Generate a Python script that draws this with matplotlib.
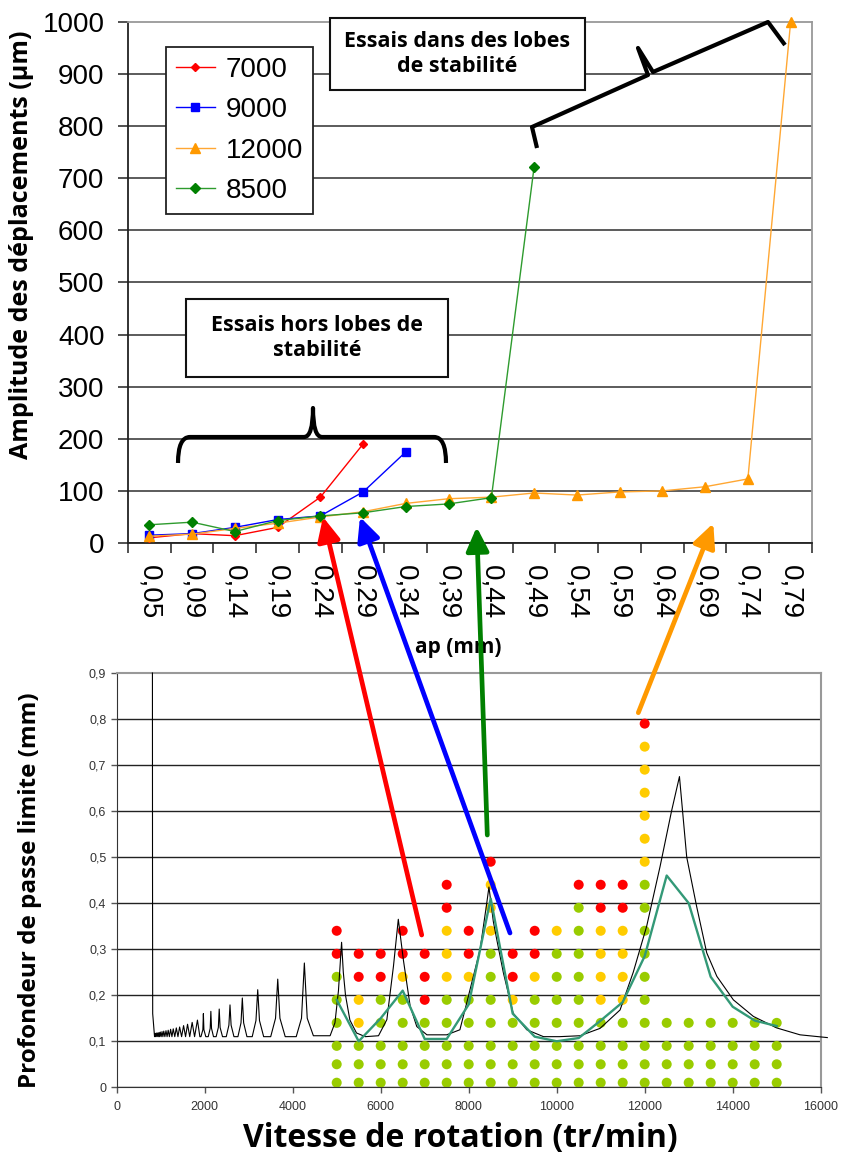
import matplotlib
matplotlib.use("Agg")
import matplotlib.pyplot as plt
from matplotlib.patches import Rectangle, FancyArrowPatch, PathPatch
from matplotlib.path import Path

W, H = 841, 1153
plt.rcParams["font.family"] = ["Liberation Sans", "DejaVu Sans"]
BOLD = ["Open Sans", "DejaVu Sans"]

# ---- top chart: displacement amplitude vs depth of cut ----
ap_labels = ["0,05", "0,09", "0,14", "0,19", "0,24", "0,29", "0,34", "0,39",
             "0,44", "0,49", "0,54", "0,59", "0,64", "0,69", "0,74", "0,79"]
amp_7000 = [10, 18, 14, 30, 88, 190]
amp_9000 = [15, 18, 30, 45, 52, 98, 175]
amp_12000 = [13, 17, 28, 38, 50, 60, 76, 85, 88, 96, 92, 98, 100, 108, 123, 1000]
amp_8500 = [35, 40, 22, 43, 52, 58, 70, 75, 87, 722]

# ---- bottom chart: stability lobes and test grid ----
rpm_cols = [5000, 5500, 6000, 6500, 7000, 7500, 8000, 8500, 9000, 9500, 10000,
            10500, 11000, 11500, 12000, 12500, 13000, 13500, 14000, 14500, 15000]
ap_levels = [0.01, 0.05, 0.09, 0.14, 0.19, 0.24, 0.29, 0.34, 0.39, 0.44, 0.49,
             0.54, 0.59, 0.64, 0.69, 0.74, 0.79]
n_stable = [6, 3, 5, 5, 4, 5, 5, 7, 4, 5, 7, 9, 4, 4, 10, 4, 4, 4, 4, 4, 4]
n_marginal = [0, 2, 0, 1, 0, 3, 1, 3, 1, 1, 1, 0, 4, 4, 6, 0, 0, 0, 0, 0, 0]
n_unstable = [2, 2, 2, 2, 3, 2, 2, 1, 2, 2, 0, 1, 2, 2, 1, 0, 0, 0, 0, 0, 0]
limit_ap = [0.19, 0.10, 0.15, 0.21, 0.105, 0.105, 0.18, 0.41, 0.16, 0.11, 0.10,
            0.107, 0.145, 0.185, 0.285, 0.46, 0.40, 0.24, 0.175, 0.145, 0.133]

lobe_rpm = [812, 814, 818, 860,
            870, 885, 900, 915, 930, 945, 960, 975, 990, 1010, 1030, 1050,
            1070, 1095, 1120, 1145, 1170, 1197, 1225, 1255, 1285, 1320, 1355,
            1392, 1430, 1475, 1520, 1565, 1610, 1660, 1715, 1770, 1835, 1890,
            1915, 1958, 1970, 1982, 2025, 2080, 2125, 2140, 2155, 2200,
            2260, 2310, 2330, 2350, 2405, 2490, 2550, 2575, 2600, 2665,
            2755, 2825, 2855, 2885, 2960, 3080, 3165, 3205, 3245, 3340,
            3500, 3610, 3660, 3710, 3830, 4080, 4200, 4265, 4330, 4470,
            4850, 4960, 5040, 5111, 5150, 5200, 5300, 5450, 5650, 5950,
            6140, 6290, 6400, 6515, 6670, 6820, 7050, 7500, 7800, 7920,
            8260, 8410, 8460, 8560, 8640, 8790, 9010, 9320, 9700, 10060,
            10530, 10985, 11440, 11740, 12045, 12350, 12610, 12790, 12955,
            13180, 13410, 13640, 14015, 14470, 15000, 15530, 16150]
lobe_ap = [0.9, 0.48, 0.16, 0.11,
           0.117, 0.11, 0.118, 0.11, 0.118, 0.11, 0.119, 0.11, 0.12, 0.11, 0.121, 0.11,
           0.122, 0.11, 0.123, 0.11, 0.124, 0.11, 0.126, 0.11, 0.127, 0.11, 0.129,
           0.11, 0.131, 0.11, 0.134, 0.11, 0.137, 0.11, 0.141, 0.11, 0.146, 0.11,
           0.11, 0.125, 0.16, 0.125, 0.11, 0.11, 0.128, 0.165, 0.128, 0.11,
           0.11, 0.13, 0.17, 0.13, 0.11, 0.11, 0.135, 0.179, 0.135, 0.11,
           0.11, 0.14, 0.194, 0.14, 0.11, 0.11, 0.145, 0.212, 0.145, 0.11,
           0.11, 0.15, 0.235, 0.15, 0.11, 0.11, 0.15, 0.27, 0.15, 0.112,
           0.112, 0.14, 0.21, 0.315, 0.25, 0.2, 0.146, 0.118, 0.11, 0.112,
           0.147, 0.263, 0.365, 0.277, 0.176, 0.132, 0.114, 0.114, 0.125, 0.17,
           0.30, 0.40, 0.435, 0.36, 0.32, 0.248, 0.161, 0.125, 0.11, 0.11,
           0.112, 0.128, 0.168, 0.25, 0.35, 0.48, 0.60, 0.675, 0.50,
           0.393, 0.292, 0.241, 0.19, 0.154, 0.129, 0.114, 0.108]

GREEN, YELLOW, RED = "#99CC00", "#FFCC00", "#FF0000"


def box(l, t, r, b):
    return [l / W, 1 - b / H, (r - l) / W, (b - t) / H]


fig = plt.figure(figsize=(W / 100, H / 100), dpi=100)

# top chart
ax1 = fig.add_axes(box(128, 22, 812, 543))
series = [(amp_7000, "#FF0000", "#FF0000", "D", 4.5, "7000"),
          (amp_9000, "#0000FF", "#0000FF", "s", 5.5, "9000"),
          (amp_12000, "#FFA733", "#FF9900", "^", 7, "12000"),
          (amp_8500, "#2E9B2E", "#008000", "D", 5, "8500")]
for vals, lc, mc, marker, ms, label in series:
    ax1.plot(range(len(vals)), vals, color=lc, marker=marker, ms=ms, lw=1,
             mfc=mc, mec=mc, label=label, clip_on=False, zorder=3)
ax1.set_xlim(-0.5, len(ap_labels) - 0.5)
ax1.set_ylim(0, 1000)
ax1.set_yticks(range(0, 1001, 100))
ax1.set_xticks(range(len(ap_labels)))
ax1.set_xticklabels(ap_labels, rotation=-90)
ax1.set_xticks([i - 0.5 for i in range(len(ap_labels) + 1)], minor=True)
ax1.tick_params(axis="x", which="major", length=0, pad=16, labelsize=20)
ax1.tick_params(axis="x", which="minor", length=7, width=1.2, color="#333333")
ax1.tick_params(axis="y", length=7, width=1.2, pad=10, labelsize=20, color="#333333")
ax1.grid(axis="y", color="#404040", lw=1.2)
ax1.yaxis.get_gridlines()[-1].set_visible(False)
ax1.set_axisbelow(True)
for side in ["left", "bottom"]:
    ax1.spines[side].set_color("#222222")
    ax1.spines[side].set_linewidth(1.3)
for side in ["top", "right"]:
    ax1.spines[side].set_color("#999999")
    ax1.spines[side].set_linewidth(1.3)
leg = ax1.legend(loc="upper left", bbox_to_anchor=(166 / W, 1 - 47 / H),
                 bbox_transform=fig.transFigure, fontsize=20, frameon=True,
                 fancybox=False, framealpha=1, edgecolor="#222222",
                 handlelength=1.4, labelspacing=0.52, borderaxespad=0,
                 handletextpad=0.4, borderpad=0.35)
leg.get_frame().set_linewidth(1.3)

fig.text(22 / W, 1 - 245 / H, "Amplitude des déplacements (µm)", rotation=90,
         ha="center", va="center", fontsize=18, fontweight="bold", family=BOLD)
fig.text(458 / W, 1 - 647 / H, "ap (mm)", ha="center", va="center",
         fontsize=15, fontweight="bold", family=BOLD)

# bottom chart
ax2 = fig.add_axes(box(116.7, 673, 820.7, 1087.3))
for i, rpm in enumerate(rpm_cols):
    n = n_stable[i] + n_marginal[i] + n_unstable[i]
    cols = [GREEN] * n_stable[i] + [YELLOW] * n_marginal[i] + [RED] * n_unstable[i]
    ax2.scatter([rpm] * n, ap_levels[:n], c=cols, s=52, linewidths=0,
                zorder=2, clip_on=False)
ax2.plot(lobe_rpm, lobe_ap, color="black", lw=0.8, zorder=3, clip_on=False)
ax2.plot(rpm_cols, limit_ap, color="#339977", lw=1.7, zorder=4)
ax2.set_xlim(0, 16000)
ax2.set_ylim(0, 0.9)
ax2.set_xticks(range(0, 16001, 2000))
yt = [i / 10 for i in range(10)]
ax2.set_yticks(yt)
ax2.set_yticklabels([("%g" % v).replace(".", ",") for v in yt])
ax2.tick_params(length=4, width=1, labelsize=9, labelcolor="#333333",
                color="#555555")
ax2.tick_params(axis="x", pad=6)
ax2.grid(axis="y", color="#222222", lw=1)
ax2.yaxis.get_gridlines()[-1].set_visible(False)
ax2.set_axisbelow(True)
for side in ["left", "bottom"]:
    ax2.spines[side].set_color("#333333")
for side in ["top", "right"]:
    ax2.spines[side].set_color("#999999")
    ax2.spines[side].set_linewidth(1.5)

fig.text(30 / W, 1 - 890 / H, "Profondeur de passe limite (mm)", rotation=90,
         ha="center", va="center", fontsize=17.5, fontweight="bold", family=BOLD)
fig.text(460 / W, 1 - 1138 / H, "Vitesse de rotation (tr/min)", ha="center",
         va="center", fontsize=23, fontweight="bold", family=BOLD)

# overlay in pixel coordinates for the annotations
ov = fig.add_axes([0, 0, 1, 1], zorder=10)
ov.set_xlim(0, W)
ov.set_ylim(H, 0)
ov.axis("off")
ov.patch.set_alpha(0)

for (l, t, r, b), txt in [((330, 18, 585, 90), "Essais dans des lobes\nde stabilité"),
                          ((186, 299, 448, 377), "Essais hors lobes de\nstabilité")]:
    ov.add_patch(Rectangle((l, t), r - l, b - t, facecolor="white",
                           edgecolor="#111111", lw=1.5))
    ov.text((l + r) / 2, (t + b) / 2, txt, ha="center", va="center",
            fontsize=15.5, fontweight="bold", family=BOLD, linespacing=1.3)

C3, L, M = Path.CURVE3, Path.LINETO, Path.MOVETO
brace_low = Path([(178, 463), (178, 437), (190, 437), (304, 437), (313, 437),
                  (313, 408), (313, 437), (322, 437), (434, 437), (446, 437),
                  (446, 463)],
                 [M, C3, C3, L, C3, C3, C3, C3, L, C3, C3])
brace_high = Path([(537, 148), (532, 127), (648, 75), (638, 48), (653, 72),
                   (768, 22), (785, 45)], [M, L, L, L, L, L, L])
for p in (brace_low, brace_high):
    ov.add_patch(PathPatch(p, facecolor="none", edgecolor="black", lw=3,
                           joinstyle="round", capstyle="butt"))

arrows = [((421.7, 935), (323, 517), "#FF0000"),
          ((510, 933), (360, 517), "#0000FF"),
          ((487.3, 835), (476.7, 527), "#008000"),
          ((638.3, 712.7), (713.3, 523.3), "#FF9900")]
for tail, head, color in arrows:
    ov.add_patch(FancyArrowPatch(tail, head, color=color, lw=3.4,
                                 arrowstyle="-|>,head_length=0.8,head_width=0.38",
                                 mutation_scale=18, shrinkA=0, shrinkB=0))

fig.savefig("out.png", dpi=100)
